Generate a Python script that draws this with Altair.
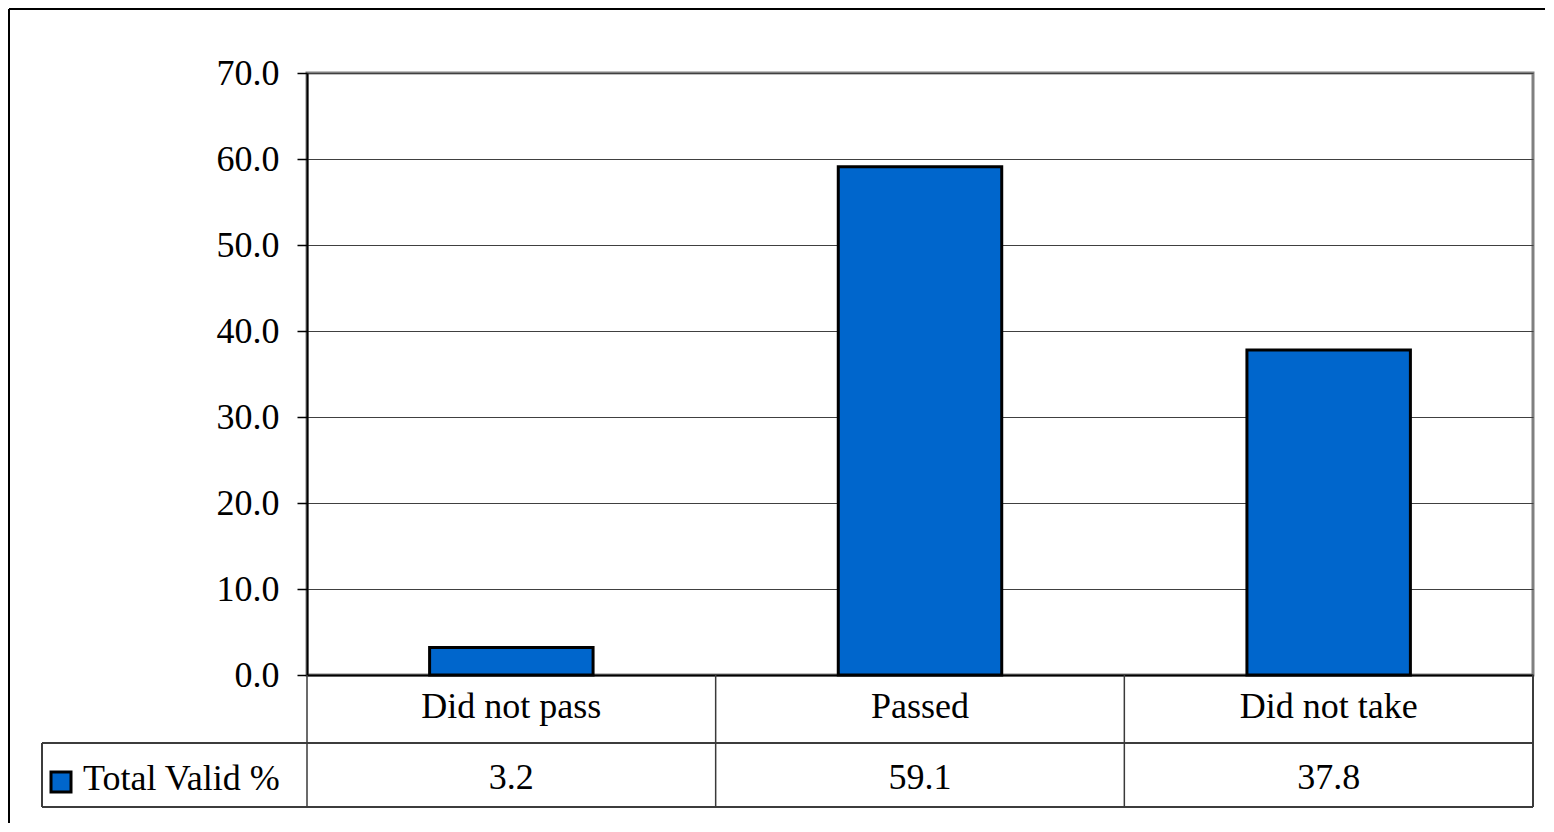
import altair as alt
import pandas as pd

categories = ["Did not pass", "Passed", "Did not take"]
values = [3.2, 59.1, 37.8]
series_name = "Total Valid %"
y_ticks = [0, 10, 20, 30, 40, 50, 60, 70]

df = pd.DataFrame({"cat": categories, "val": values,
                   "label": [f"{v:.1f}" for v in values]})

W, H = 1226, 602
FONT = "Liberation Serif"
LINE = "#3a3a3a"

xenc = alt.X("cat:N", sort=categories,
             scale=alt.Scale(paddingInner=0, paddingOuter=0),
             axis=alt.Axis(labels=False, ticks=False, title=None, grid=False,
                           domain=True, domainColor="black", domainWidth=2))

bars = alt.Chart(df).mark_bar(
    color="#0066CC", stroke="black", strokeWidth=3,
    width=alt.RelativeBandSize(0.4)
).encode(
    x=xenc,
    y=alt.Y("val:Q", scale=alt.Scale(domain=[0, 70], nice=False),
            axis=alt.Axis(values=y_ticks, format=".1f", title=None,
                          labelFont=FONT, labelFontSize=36, labelColor="black",
                          labelPadding=18, tickSize=10, tickColor="black",
                          tickWidth=1.5, domainColor="black", domainWidth=2,
                          gridColor="#404040", gridWidth=1))
)

# table vertical lines at band starts
vlines = alt.Chart(df).mark_rule(color=LINE, strokeWidth=1.5).encode(
    x=alt.X("cat:N", sort=categories, bandPosition=0),
    y=alt.value(H), y2=alt.value(H + 132)
)
vright = alt.Chart(df).mark_rule(color=LINE, strokeWidth=1.5).encode(
    x=alt.value(W), y=alt.value(H), y2=alt.value(H + 132)
)
vleft = alt.Chart(df).mark_rule(color=LINE, strokeWidth=1.5).encode(
    x=alt.value(-265), y=alt.value(H + 68), y2=alt.value(H + 132)
)
hmid = alt.Chart(df).mark_rule(color=LINE, strokeWidth=1.5).encode(
    x=alt.value(-265), x2=alt.value(W), y=alt.value(H + 68)
)
hbot = alt.Chart(df).mark_rule(color=LINE, strokeWidth=1.5).encode(
    x=alt.value(-265), x2=alt.value(W), y=alt.value(H + 132)
)

cat_text = alt.Chart(df).mark_text(
    font=FONT, fontSize=36, color="black", baseline="middle"
).encode(x=alt.X("cat:N", sort=categories), y=alt.value(H + 32), text="cat:N")

val_text = alt.Chart(df).mark_text(
    font=FONT, fontSize=36, color="black", baseline="middle"
).encode(x=alt.X("cat:N", sort=categories), y=alt.value(H + 103), text="label:N")

leg_df = pd.DataFrame({"name": [series_name]})
leg_sq = alt.Chart(leg_df).mark_square(
    color="#0066CC", stroke="black", strokeWidth=3, size=400, opacity=1
).encode(x=alt.value(-246), y=alt.value(H + 107))
leg_txt = alt.Chart(leg_df).mark_text(
    font=FONT, fontSize=36, color="black", align="left", baseline="middle"
).encode(x=alt.value(-224), y=alt.value(H + 104), text="name:N")

# outer frame (top and left edges)
frame_top = alt.Chart(leg_df).mark_rule(color="black", strokeWidth=2).encode(
    x=alt.value(-298), x2=alt.value(1238), y=alt.value(-64)
)
frame_left = alt.Chart(leg_df).mark_rule(color="black", strokeWidth=2).encode(
    x=alt.value(-298), y=alt.value(-64), y2=alt.value(750)
)

chart = alt.layer(
    bars, vlines, vright, vleft, hmid, hbot, cat_text, val_text,
    leg_sq, leg_txt, frame_top, frame_left
).properties(
    width=W, height=H, padding=0, background="white"
).configure_view(
    stroke="#808080", strokeWidth=3
)

chart.save("out.html", embed_options={"renderer": "svg", "actions": False})
